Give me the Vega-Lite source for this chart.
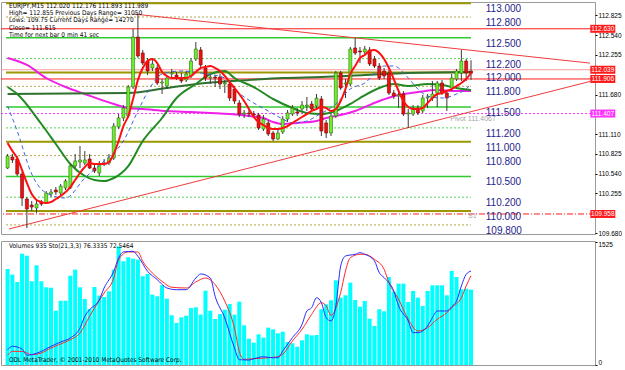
{
  "$schema": "https://vega.github.io/schema/vega-lite/v6.json",
  "padding": {"left": 0, "top": 1, "right": 0, "bottom": 0},
  "spacing": 2,
  "background": "#ffffff",
  "config": {
    "view": {"stroke": "#9a9a9a", "strokeWidth": 1},
    "axis": {"grid": false, "domain": false}
  },
  "datasets": {
    "candles": [
      {"j":0,"o":110.621,"h":110.823,"l":110.607,"c":110.794},
      {"j":1,"o":110.780,"h":110.823,"l":110.693,"c":110.737},
      {"j":2,"o":110.751,"h":110.794,"l":110.506,"c":110.535},
      {"j":3,"o":110.535,"h":110.564,"l":110.073,"c":110.188},
      {"j":4,"o":110.174,"h":110.203,"l":109.755,"c":110.030},
      {"j":5,"o":110.087,"h":110.145,"l":110.001,"c":110.058},
      {"j":6,"o":110.044,"h":110.145,"l":109.972,"c":110.102},
      {"j":7,"o":110.131,"h":110.159,"l":110.073,"c":110.102},
      {"j":8,"o":110.116,"h":110.289,"l":110.102,"c":110.260},
      {"j":9,"o":110.246,"h":110.318,"l":110.203,"c":110.275},
      {"j":10,"o":110.304,"h":110.347,"l":110.232,"c":110.275},
      {"j":11,"o":110.260,"h":110.390,"l":110.232,"c":110.361},
      {"j":12,"o":110.333,"h":110.462,"l":110.304,"c":110.434},
      {"j":13,"o":110.333,"h":110.679,"l":110.318,"c":110.650},
      {"j":14,"o":110.650,"h":110.823,"l":110.621,"c":110.722},
      {"j":15,"o":110.708,"h":110.939,"l":110.621,"c":110.737},
      {"j":16,"o":110.693,"h":110.866,"l":110.664,"c":110.737},
      {"j":17,"o":110.751,"h":110.823,"l":110.607,"c":110.621},
      {"j":18,"o":110.621,"h":110.679,"l":110.549,"c":110.578},
      {"j":19,"o":110.549,"h":110.722,"l":110.506,"c":110.679},
      {"j":20,"o":110.679,"h":110.751,"l":110.650,"c":110.693},
      {"j":21,"o":110.693,"h":110.823,"l":110.664,"c":110.765},
      {"j":22,"o":110.765,"h":111.271,"l":110.737,"c":111.227},
      {"j":23,"o":111.213,"h":111.400,"l":111.184,"c":111.343},
      {"j":24,"o":111.343,"h":111.530,"l":111.299,"c":111.487},
      {"j":25,"o":111.372,"h":111.819,"l":111.343,"c":111.790},
      {"j":26,"o":111.790,"h":112.627,"l":111.761,"c":112.512},
      {"j":27,"o":112.512,"h":112.843,"l":112.209,"c":112.237},
      {"j":28,"o":112.281,"h":112.324,"l":112.108,"c":112.136},
      {"j":29,"o":112.165,"h":112.209,"l":111.963,"c":112.021},
      {"j":30,"o":112.064,"h":112.194,"l":112.021,"c":112.122},
      {"j":31,"o":112.064,"h":112.108,"l":111.819,"c":111.848},
      {"j":32,"o":111.848,"h":111.905,"l":111.689,"c":111.862},
      {"j":33,"o":111.804,"h":111.963,"l":111.761,"c":111.920},
      {"j":34,"o":111.978,"h":112.050,"l":111.920,"c":111.992},
      {"j":35,"o":111.963,"h":112.007,"l":111.891,"c":111.934},
      {"j":36,"o":111.920,"h":111.992,"l":111.848,"c":111.877},
      {"j":37,"o":111.891,"h":112.021,"l":111.862,"c":111.978},
      {"j":38,"o":111.949,"h":112.209,"l":111.920,"c":112.165},
      {"j":39,"o":112.194,"h":112.439,"l":112.165,"c":112.338},
      {"j":40,"o":112.324,"h":112.367,"l":112.079,"c":112.108},
      {"j":41,"o":112.064,"h":112.108,"l":111.877,"c":111.920},
      {"j":42,"o":111.920,"h":111.978,"l":111.833,"c":111.934},
      {"j":43,"o":111.934,"h":111.963,"l":111.790,"c":111.920},
      {"j":44,"o":111.934,"h":111.978,"l":111.761,"c":111.833},
      {"j":45,"o":111.833,"h":111.891,"l":111.703,"c":111.848},
      {"j":46,"o":111.833,"h":111.877,"l":111.588,"c":111.631},
      {"j":47,"o":111.761,"h":111.804,"l":111.545,"c":111.588},
      {"j":48,"o":111.559,"h":111.602,"l":111.357,"c":111.400},
      {"j":49,"o":111.400,"h":111.458,"l":111.343,"c":111.415},
      {"j":50,"o":111.415,"h":111.473,"l":111.357,"c":111.400},
      {"j":51,"o":111.400,"h":111.444,"l":111.343,"c":111.386},
      {"j":52,"o":111.386,"h":111.415,"l":111.170,"c":111.198},
      {"j":53,"o":111.184,"h":111.386,"l":111.155,"c":111.328},
      {"j":54,"o":111.271,"h":111.314,"l":111.083,"c":111.112},
      {"j":55,"o":111.126,"h":111.155,"l":111.011,"c":111.040},
      {"j":56,"o":111.040,"h":111.184,"l":111.025,"c":111.126},
      {"j":57,"o":111.141,"h":111.372,"l":111.112,"c":111.328},
      {"j":58,"o":111.328,"h":111.458,"l":111.285,"c":111.415},
      {"j":59,"o":111.400,"h":111.530,"l":111.372,"c":111.487},
      {"j":60,"o":111.429,"h":111.487,"l":111.372,"c":111.415},
      {"j":61,"o":111.473,"h":111.588,"l":111.444,"c":111.530},
      {"j":62,"o":111.516,"h":111.646,"l":111.444,"c":111.530},
      {"j":63,"o":111.545,"h":111.588,"l":111.444,"c":111.473},
      {"j":64,"o":111.516,"h":111.689,"l":111.487,"c":111.631},
      {"j":65,"o":111.617,"h":111.660,"l":111.083,"c":111.155},
      {"j":66,"o":111.271,"h":111.314,"l":111.054,"c":111.126},
      {"j":67,"o":111.126,"h":111.415,"l":111.083,"c":111.372},
      {"j":68,"o":111.372,"h":112.021,"l":111.343,"c":111.992},
      {"j":69,"o":111.992,"h":112.021,"l":111.747,"c":111.776},
      {"j":70,"o":111.833,"h":111.905,"l":111.631,"c":111.848},
      {"j":71,"o":111.833,"h":112.367,"l":111.804,"c":112.338},
      {"j":72,"o":112.353,"h":112.497,"l":112.252,"c":112.281},
      {"j":73,"o":112.310,"h":112.367,"l":112.136,"c":112.295},
      {"j":74,"o":112.295,"h":112.382,"l":112.252,"c":112.338},
      {"j":75,"o":112.324,"h":112.367,"l":112.093,"c":112.122},
      {"j":76,"o":112.194,"h":112.237,"l":112.064,"c":112.093},
      {"j":77,"o":112.093,"h":112.136,"l":111.891,"c":111.920},
      {"j":78,"o":112.021,"h":112.064,"l":111.905,"c":111.949},
      {"j":79,"o":111.992,"h":112.035,"l":111.675,"c":111.703},
      {"j":80,"o":111.703,"h":111.747,"l":111.617,"c":111.660},
      {"j":81,"o":111.660,"h":111.732,"l":111.487,"c":111.675},
      {"j":82,"o":111.689,"h":111.732,"l":111.372,"c":111.400},
      {"j":83,"o":111.400,"h":111.473,"l":111.198,"c":111.415},
      {"j":84,"o":111.400,"h":111.530,"l":111.372,"c":111.487},
      {"j":85,"o":111.487,"h":111.530,"l":111.386,"c":111.415},
      {"j":86,"o":111.444,"h":111.675,"l":111.415,"c":111.631},
      {"j":87,"o":111.631,"h":111.689,"l":111.487,"c":111.646},
      {"j":88,"o":111.631,"h":111.877,"l":111.588,"c":111.689},
      {"j":89,"o":111.703,"h":111.877,"l":111.501,"c":111.848},
      {"j":90,"o":111.848,"h":111.891,"l":111.675,"c":111.703},
      {"j":91,"o":111.703,"h":111.747,"l":111.444,"c":111.631},
      {"j":92,"o":111.776,"h":111.978,"l":111.732,"c":111.920},
      {"j":93,"o":111.905,"h":112.050,"l":111.877,"c":112.021},
      {"j":94,"o":111.992,"h":112.324,"l":111.877,"c":112.165},
      {"j":95,"o":112.165,"h":112.194,"l":111.877,"c":111.992},
      {"j":96,"o":112.020,"h":112.176,"l":111.893,"c":111.989}
    ],
    "vol": [
      {"j":0,"v":1190},{"j":1,"v":1120},{"j":2,"v":1030},{"j":3,"v":1380},{"j":4,"v":1355},{"j":5,"v":1038},{"j":6,"v":1236},{"j":7,"v":1038},{"j":8,"v":963},{"j":9,"v":958},
      {"j":10,"v":673},{"j":11,"v":797},{"j":12,"v":797},{"j":13,"v":1107},{"j":14,"v":1182},{"j":15,"v":963},{"j":16,"v":818},{"j":17,"v":694},{"j":18,"v":967},{"j":19,"v":860},
      {"j":20,"v":843},{"j":21,"v":913},{"j":22,"v":1182},{"j":23,"v":1472},{"j":24,"v":1286},{"j":25,"v":1335},{"j":26,"v":1318},{"j":27,"v":1306},{"j":28,"v":1100},{"j":29,"v":1128},
      {"j":30,"v":872},{"j":31,"v":852},{"j":32,"v":988},{"j":33,"v":822},{"j":34,"v":616},{"j":35,"v":521},{"j":36,"v":591},{"j":37,"v":611},{"j":38,"v":707},{"j":39,"v":715},
      {"j":40,"v":624},{"j":41,"v":921},{"j":42,"v":673},{"j":43,"v":570},{"j":44,"v":632},{"j":45,"v":686},{"j":46,"v":756},{"j":47,"v":624},{"j":48,"v":785},{"j":49,"v":492},
      {"j":50,"v":326},{"j":51,"v":277},{"j":52,"v":380},{"j":53,"v":339},{"j":54,"v":463},{"j":55,"v":442},{"j":56,"v":393},{"j":57,"v":413},{"j":58,"v":285},{"j":59,"v":269},
      {"j":60,"v":227},{"j":61,"v":306},{"j":62,"v":380},{"j":63,"v":368},{"j":64,"v":372},{"j":65,"v":691},{"j":66,"v":753},{"j":67,"v":802},{"j":68,"v":1050},{"j":69,"v":835},
      {"j":70,"v":864},{"j":71,"v":1021},{"j":72,"v":806},{"j":73,"v":723},{"j":74,"v":794},{"j":75,"v":574},{"j":76,"v":484},{"j":77,"v":691},{"j":78,"v":666},{"j":79,"v":1091},
      {"j":80,"v":909},{"j":81,"v":1008},{"j":82,"v":1008},{"j":83,"v":781},{"j":84,"v":918},{"j":85,"v":835},{"j":86,"v":732},{"j":87,"v":918},{"j":88,"v":988},{"j":89,"v":988},
      {"j":90,"v":988},{"j":91,"v":864},{"j":92,"v":1166},{"j":93,"v":1091},{"j":94,"v":939},{"j":95,"v":946},{"j":96,"v":935}
    ],
    "stk": [
      {"j":0,"s":12.4},{"j":1,"s":15.2},{"j":3,"s":13},{"j":4,"s":7.9},{"j":5,"s":8.4},{"j":7,"s":11.1},{"j":9,"s":15.2},{"j":11,"s":18.7},{"j":13,"s":22},{"j":15,"s":30},
      {"j":16,"s":39.6},{"j":17,"s":45},{"j":19,"s":53},{"j":20,"s":62.6},{"j":22,"s":76.2},{"j":23,"s":87},{"j":24,"s":91.9},{"j":26,"s":92.4},{"j":27,"s":88.4},{"j":29,"s":76.2},
      {"j":31,"s":69.4},{"j":33,"s":62.6},{"j":35,"s":61.2},{"j":37,"s":61.2},{"j":39,"s":70.7},{"j":40,"s":74},{"j":42,"s":70.7},{"j":43,"s":55.8},{"j":45,"s":38.2},{"j":47,"s":13.8},
      {"j":48,"s":4.3},{"j":50,"s":4},{"j":51,"s":5.1},{"j":53,"s":6.7},{"j":55,"s":5.9},{"j":56,"s":5.9},{"j":57,"s":11.4},{"j":59,"s":22.2},{"j":61,"s":33},{"j":62,"s":43.9},
      {"j":63,"s":46.6},{"j":64,"s":54.7},{"j":65,"s":50.7},{"j":66,"s":38.5},{"j":67,"s":35.8},{"j":68,"s":48},{"j":69,"s":80.5},{"j":70,"s":88.6},{"j":72,"s":90},{"j":73,"s":91.3},
      {"j":74,"s":90},{"j":76,"s":84.6},{"j":77,"s":75},{"j":78,"s":71},{"j":80,"s":60.2},{"j":81,"s":48},{"j":83,"s":35.8},{"j":84,"s":26.3},{"j":85,"s":26.3},{"j":87,"s":31.7},
      {"j":88,"s":38.5},{"j":89,"s":43.9},{"j":91,"s":43.9},{"j":92,"s":47.4},{"j":93,"s":52},{"j":94,"s":64.2},{"j":95,"s":73.7},{"j":96,"s":76.3335}
    ],
    "std": [
      {"j":0,"s":7.9},{"j":1,"s":11.1},{"j":3,"s":11.1},{"j":5,"s":8.4},{"j":7,"s":9.8},{"j":9,"s":13.8},{"j":11,"s":17.1},{"j":13,"s":20.6},{"j":15,"s":26},{"j":17,"s":39.6},
      {"j":18,"s":46.3},{"j":20,"s":58.5},{"j":22,"s":70.7},{"j":23,"s":85.6},{"j":25,"s":91.9},{"j":27,"s":91.9},{"j":28,"s":84.3},{"j":30,"s":74.8},{"j":32,"s":68},{"j":34,"s":63.2},
      {"j":37,"s":62.6},{"j":39,"s":67.5},{"j":41,"s":70.7},{"j":43,"s":65.3},{"j":45,"s":51.8},{"j":47,"s":30},{"j":48,"s":11.1},{"j":49,"s":4.6},{"j":51,"s":5.1},{"j":54,"s":5.9},
      {"j":56,"s":6.7},{"j":57,"s":8.7},{"j":59,"s":19.5},{"j":61,"s":29},{"j":63,"s":41.2},{"j":65,"s":50.7},{"j":66,"s":48},{"j":67,"s":40.4},{"j":69,"s":58.8},{"j":70,"s":76.4},
      {"j":71,"s":87.2},{"j":73,"s":90},{"j":74,"s":90},{"j":76,"s":85.9},{"j":78,"s":77.8},{"j":79,"s":66.9},{"j":81,"s":53.4},{"j":83,"s":37.2},{"j":85,"s":27.6},{"j":87,"s":30.3},
      {"j":89,"s":37.2},{"j":91,"s":42.5},{"j":92,"s":46.6},{"j":94,"s":54.7},{"j":95,"s":64.2},{"j":96,"s":72.5464}
    ],
    "maRed": [
      {"j":0,"p":110.982},{"j":1,"p":110.866},{"j":2,"p":110.765},{"j":3,"p":110.592},{"j":4,"p":110.405},{"j":5,"p":110.246},{"j":6,"p":110.159},{"j":7,"p":110.131},{"j":8,"p":110.116},{"j":9,"p":110.131},
      {"j":10,"p":110.174},{"j":11,"p":110.217},{"j":12,"p":110.275},{"j":13,"p":110.347},{"j":14,"p":110.448},{"j":15,"p":110.549},{"j":16,"p":110.636},{"j":17,"p":110.693},{"j":18,"p":110.679},{"j":19,"p":110.679},
      {"j":20,"p":110.679},{"j":21,"p":110.708},{"j":22,"p":110.823},{"j":23,"p":111.011},{"j":24,"p":111.227},{"j":25,"p":111.372},{"j":26,"p":111.617},{"j":27,"p":111.891},{"j":28,"p":112.064},{"j":29,"p":112.165},
      {"j":30,"p":112.194},{"j":31,"p":112.136},{"j":32,"p":112.007},{"j":33,"p":111.949},{"j":34,"p":111.920},{"j":35,"p":111.920},{"j":36,"p":111.920},{"j":37,"p":111.920},{"j":38,"p":111.949},{"j":39,"p":112.007},
      {"j":40,"p":112.064},{"j":41,"p":112.079},{"j":42,"p":112.093},{"j":43,"p":112.064},{"j":44,"p":112.021},{"j":45,"p":111.949},{"j":46,"p":111.862},{"j":47,"p":111.776},{"j":48,"p":111.689},{"j":49,"p":111.588},
      {"j":50,"p":111.473},{"j":51,"p":111.357},{"j":52,"p":111.285},{"j":53,"p":111.242},{"j":54,"p":111.198},{"j":55,"p":111.184},{"j":56,"p":111.184},{"j":57,"p":111.198},{"j":58,"p":111.227},{"j":59,"p":111.271},
      {"j":60,"p":111.314},{"j":61,"p":111.357},{"j":62,"p":111.400},{"j":63,"p":111.444},{"j":64,"p":111.473},{"j":65,"p":111.501},{"j":66,"p":111.487},{"j":67,"p":111.444},{"j":68,"p":111.473},{"j":69,"p":111.588},
      {"j":70,"p":111.761},{"j":71,"p":111.978},{"j":72,"p":112.093},{"j":73,"p":112.209},{"j":74,"p":112.252},{"j":75,"p":112.310},{"j":76,"p":112.324},{"j":77,"p":112.281},{"j":78,"p":112.194},{"j":79,"p":112.064},
      {"j":80,"p":111.905},{"j":81,"p":111.732},{"j":82,"p":111.588},{"j":83,"p":111.501},{"j":84,"p":111.473},{"j":85,"p":111.473},{"j":86,"p":111.487},{"j":87,"p":111.559},{"j":88,"p":111.631},{"j":89,"p":111.689},
      {"j":90,"p":111.703},{"j":91,"p":111.732},{"j":92,"p":111.761},{"j":93,"p":111.804},{"j":94,"p":111.848},{"j":95,"p":111.905},{"j":96,"p":111.992}
    ],
    "maBlue": [
      {"j":0,"p":111.516},{"j":2,"p":111.155},{"j":5,"p":110.535},{"j":8,"p":110.260},{"j":12,"p":110.188},{"j":16,"p":110.477},{"j":20,"p":110.722},{"j":24,"p":111.011},{"j":27,"p":111.444},{"j":30,"p":111.833},
      {"j":32,"p":111.978},{"j":36,"p":112.021},{"j":40,"p":111.992},{"j":45,"p":111.920},{"j":47,"p":111.761},{"j":51,"p":111.559},{"j":54,"p":111.444},{"j":57,"p":111.328},{"j":59,"p":111.271},{"j":62,"p":111.299},
      {"j":64,"p":111.372},{"j":68,"p":111.545},{"j":71,"p":111.761},{"j":74,"p":111.848},{"j":78,"p":112.093},{"j":80,"p":112.093},{"j":83,"p":111.920},{"j":85,"p":111.761},{"j":87,"p":111.660},{"j":90,"p":111.631},
      {"j":93,"p":111.689},{"j":95,"p":111.761},{"j":96,"p":111.833}
    ],
    "maGreen": [
      {"j":0,"p":111.790},{"j":2,"p":111.689},{"j":7,"p":111.256},{"j":10,"p":110.968},{"j":13,"p":110.679},{"j":16,"p":110.506},{"j":18,"p":110.448},{"j":20,"p":110.434},{"j":22,"p":110.477},{"j":25,"p":110.650},
      {"j":28,"p":111.011},{"j":32,"p":111.343},{"j":35,"p":111.631},{"j":39,"p":111.833},{"j":42,"p":111.978},{"j":45,"p":112.021},{"j":47,"p":111.920},{"j":51,"p":111.790},{"j":55,"p":111.617},{"j":59,"p":111.487},
      {"j":62,"p":111.415},{"j":65,"p":111.400},{"j":68,"p":111.444},{"j":71,"p":111.545},{"j":73,"p":111.631},{"j":77,"p":111.776},{"j":80,"p":111.833},{"j":83,"p":111.804},{"j":87,"p":111.833},{"j":90,"p":111.819},
      {"j":93,"p":111.776},{"j":96,"p":111.747}
    ],
    "maMag": [
      {"j":0,"p":112.209},{"j":4,"p":112.108},{"j":8,"p":111.920},{"j":12,"p":111.790},{"j":16,"p":111.689},{"j":22,"p":111.545},{"j":25,"p":111.487},{"j":28,"p":111.473},{"j":33,"p":111.444},{"j":38,"p":111.429},
      {"j":42,"p":111.415},{"j":46,"p":111.400},{"j":50,"p":111.372},{"j":53,"p":111.343},{"j":55,"p":111.285},{"j":57,"p":111.256},{"j":60,"p":111.271},{"j":64,"p":111.299},{"j":66,"p":111.343},{"j":69,"p":111.386},
      {"j":72,"p":111.444},{"j":74,"p":111.501},{"j":77,"p":111.588},{"j":81,"p":111.675},{"j":85,"p":111.718},{"j":89,"p":111.747},{"j":93,"p":111.732},{"j":96,"p":111.732}
    ],
    "maLong": [
      {"j":0,"p":111.689},{"j":25,"p":111.703},{"j":33,"p":111.776},{"j":41,"p":111.848},{"j":50,"p":111.891},{"j":57,"p":111.920},{"j":65,"p":111.934},{"j":74,"p":111.963},{"j":83,"p":111.992},{"j":96,"p":112.007}
    ],
    "levels": [
      {"p":113.0,"kind":"major","label":"113.000"},
      {"p":112.8,"kind":"minor","label":"112.800"},
      {"p":112.5,"kind":"mid","label":"112.500"},
      {"p":112.2,"kind":"quarter","label":"112.200"},
      {"p":112.0,"kind":"major","label":"112.000"},
      {"p":111.8,"kind":"minor","label":"111.800"},
      {"p":111.5,"kind":"mid","label":"111.500"},
      {"p":111.2,"kind":"quarter","label":"111.200"},
      {"p":111.0,"kind":"major","label":"111.000"},
      {"p":110.8,"kind":"minor","label":"110.800"},
      {"p":110.5,"kind":"mid","label":"110.500"},
      {"p":110.2,"kind":"quarter","label":"110.200"},
      {"p":110.0,"kind":"major","label":"110.000"},
      {"p":109.8,"kind":"minor","label":"109.800"}
    ],
    "hlines": [
      {"p":112.63,"kind":"red"},
      {"p":111.906,"kind":"red"},
      {"p":112.039,"kind":"pink"},
      {"p":111.407,"kind":"pivot"},
      {"p":109.958,"kind":"s1"}
    ],
    "tags": [
      {"p":112.63,"t":"112.630","kind":"red"},
      {"p":112.039,"t":"112.039","kind":"red"},
      {"p":111.906,"t":"111.906","kind":"red"},
      {"p":111.407,"t":"111.407","kind":"pivot"},
      {"p":109.958,"t":"109.958","kind":"red"}
    ],
    "trend": [
      {"line":"upper","j":26.15,"p":112.843},
      {"line":"upper","j":120.65,"p":112.135},
      {"line":"lower","j":0.29,"p":109.741},
      {"line":"lower","j":120.65,"p":111.870}
    ],
    "notes": [
      {"j":0.29,"p":112.955,"t":"EURJPY,M15  112.020 112.176 111.893 111.989"},
      {"j":0.29,"p":112.858,"t":"High= 112.855"},
      {"j":9.9,"p":112.858,"t":"Previous Days Range= 31050"},
      {"j":0.29,"p":112.752,"t":"Lows: 109.75"},
      {"j":8.7,"p":112.752,"t":"Current Days Range= 14270"},
      {"j":0.29,"p":112.646,"t":"Close= 111.615"},
      {"j":0.29,"p":112.54,"t":"Time for next bar 0 min 41 sec"}
    ],
    "grayNotes": [
      {"j":91.7,"p":111.328,"t":"Pivot 111.4067"},
      {"j":95.4,"p":109.929,"t":"S1"}
    ],
    "paneNotes": [
      {"j":0.29,"v":1475,"t":"Volumes 935  Sto(21,3,3) 76.3335 72.5464"},
      {"j":0.29,"v":60,"t":"ODL MetaTrader, © 2001-2010 MetaQuotes Software Corp."}
    ]
  },
  "vconcat": [
    {
      "width": 594,
      "height": 232,
      "layer": [
        {
          "data": {"name": "levels"},
          "transform": [{"filter": "datum.kind == 'major'"}],
          "mark": {"type": "rule", "color": "#9d9700", "strokeWidth": 2},
          "encoding": {
            "x": {"datum": -0.326, "type": "quantitative", "scale": {"domain": [-0.326, 120.65], "nice": false, "zero": false}, "axis": null},
            "x2": {"datum": 96},
            "y": {"field": "p", "type": "quantitative", "scale": {"domain": [109.669, 113.0166], "nice": false, "zero": false},
                  "axis": {"orient": "right", "values": [112.825,112.54,112.255,111.68,111.11,110.825,110.54,110.255,109.68], "format": ".3f", "labelFontSize": 6.5, "labelFont": "Liberation Sans", "labelColor": "#000000", "tickColor": "#000000", "tickSize": 2, "labelPadding": 1, "title": null, "labelOverlap": false, "domain": false, "grid": false}}
          }
        },
        {
          "mark": {"type": "rule", "strokeDash": [2, 2], "color": "#000000", "strokeWidth": 1},
          "encoding": {"x": {"datum": 65.15, "type": "quantitative", "scale": {"domain": [-0.326, 120.65], "nice": false, "zero": false}, "axis": null}}
        },
        {
          "data": {"name": "levels"},
          "transform": [{"filter": "datum.kind == 'minor'"}],
          "mark": {"type": "rule", "color": "#b3a64a", "strokeWidth": 1, "strokeDash": [2, 2]},
          "encoding": {
            "x": {"datum": -0.326, "type": "quantitative", "axis": null},
            "x2": {"datum": 96},
            "y": {"field": "p", "type": "quantitative", "axis": null}
          }
        },
        {
          "data": {"name": "levels"},
          "transform": [{"filter": "datum.kind == 'mid'"}],
          "mark": {"type": "rule", "color": "#2fcc2f", "strokeWidth": 1.5},
          "encoding": {
            "x": {"datum": -0.326, "type": "quantitative", "axis": null},
            "x2": {"datum": 96},
            "y": {"field": "p", "type": "quantitative", "axis": null}
          }
        },
        {
          "data": {"name": "levels"},
          "transform": [{"filter": "datum.kind == 'quarter'"}],
          "mark": {"type": "rule", "color": "#55d455", "strokeWidth": 1, "strokeDash": [2, 2]},
          "encoding": {
            "x": {"datum": -0.326, "type": "quantitative", "axis": null},
            "x2": {"datum": 96},
            "y": {"field": "p", "type": "quantitative", "axis": null}
          }
        },
        {
          "data": {"name": "hlines"},
          "transform": [{"filter": "datum.kind == 'red'"}],
          "mark": {"type": "rule", "color": "#ff1a1a", "strokeWidth": 1},
          "encoding": {"y": {"field": "p", "type": "quantitative", "axis": null}}
        },
        {
          "data": {"name": "hlines"},
          "transform": [{"filter": "datum.kind == 'pink'"}],
          "mark": {"type": "rule", "color": "#ff9c9c", "strokeWidth": 1},
          "encoding": {"y": {"field": "p", "type": "quantitative", "axis": null}}
        },
        {
          "data": {"name": "hlines"},
          "transform": [{"filter": "datum.kind == 'pivot'"}],
          "mark": {"type": "rule", "color": "#ff33ff", "strokeWidth": 1, "strokeDash": [2, 2]},
          "encoding": {"y": {"field": "p", "type": "quantitative", "axis": null}}
        },
        {
          "data": {"name": "hlines"},
          "transform": [{"filter": "datum.kind == 's1'"}],
          "mark": {"type": "rule", "color": "#ff1a1a", "strokeWidth": 1, "strokeDash": [6, 2, 1, 2]},
          "encoding": {"y": {"field": "p", "type": "quantitative", "axis": null}}
        },
        {
          "data": {"name": "trend"},
          "mark": {"type": "line", "color": "#f03c3c", "strokeWidth": 1},
          "encoding": {
            "x": {"field": "j", "type": "quantitative", "axis": null},
            "y": {"field": "p", "type": "quantitative", "axis": null},
            "detail": {"field": "line"}
          }
        },
        {
          "data": {"name": "maMag"},
          "mark": {"type": "line", "color": "#f020e8", "strokeWidth": 2, "interpolate": "monotone"},
          "encoding": {"x": {"field": "j", "type": "quantitative", "axis": null}, "y": {"field": "p", "type": "quantitative", "axis": null}}
        },
        {
          "data": {"name": "maLong"},
          "mark": {"type": "line", "color": "#2e7030", "strokeWidth": 2, "interpolate": "monotone"},
          "encoding": {"x": {"field": "j", "type": "quantitative", "axis": null}, "y": {"field": "p", "type": "quantitative", "axis": null}}
        },
        {
          "data": {"name": "maGreen"},
          "mark": {"type": "line", "color": "#238a23", "strokeWidth": 2, "interpolate": "monotone"},
          "encoding": {"x": {"field": "j", "type": "quantitative", "axis": null}, "y": {"field": "p", "type": "quantitative", "axis": null}}
        },
        {
          "data": {"name": "candles"},
          "mark": {"type": "rule", "color": "#3a3a3a", "strokeWidth": 1},
          "encoding": {
            "x": {"field": "j", "type": "quantitative", "axis": null},
            "y": {"field": "l", "type": "quantitative", "axis": null},
            "y2": {"field": "h"}
          }
        },
        {
          "data": {"name": "candles"},
          "mark": {"type": "bar", "size": 3, "strokeWidth": 0.6},
          "encoding": {
            "x": {"field": "j", "type": "quantitative", "axis": null},
            "y": {"field": "o", "type": "quantitative", "axis": null},
            "y2": {"field": "c"},
            "fill": {"condition": {"test": "datum.c < datum.o", "value": "#f01010"}, "value": "#6cf02a"},
            "stroke": {"condition": {"test": "datum.c < datum.o", "value": "#7a0000"}, "value": "#2f6b14"}
          }
        },
        {
          "data": {"name": "maBlue"},
          "mark": {"type": "line", "color": "#3f63e0", "strokeWidth": 1, "strokeDash": [4, 3], "interpolate": "monotone"},
          "encoding": {"x": {"field": "j", "type": "quantitative", "axis": null}, "y": {"field": "p", "type": "quantitative", "axis": null}}
        },
        {
          "data": {"name": "maRed"},
          "mark": {"type": "line", "color": "#ff1010", "strokeWidth": 2, "interpolate": "monotone"},
          "encoding": {"x": {"field": "j", "type": "quantitative", "axis": null}, "y": {"field": "p", "type": "quantitative", "axis": null}}
        },
        {
          "data": {"name": "notes"},
          "mark": {"type": "text", "align": "left", "baseline": "middle", "fontSize": 6.5, "font": "Liberation Sans Narrow, DejaVu Sans Condensed, Liberation Sans, sans-serif", "color": "#000000"},
          "encoding": {
            "x": {"field": "j", "type": "quantitative", "axis": null},
            "y": {"field": "p", "type": "quantitative", "axis": null},
            "text": {"field": "t"}
          }
        },
        {
          "data": {"name": "grayNotes"},
          "mark": {"type": "text", "align": "left", "baseline": "middle", "fontSize": 7, "font": "Liberation Sans", "color": "#a6a6a6"},
          "encoding": {
            "x": {"field": "j", "type": "quantitative", "axis": null},
            "y": {"field": "p", "type": "quantitative", "axis": null},
            "text": {"field": "t"}
          }
        },
        {
          "data": {"name": "levels"},
          "mark": {"type": "text", "align": "left", "baseline": "top", "dy": 1, "fontSize": 10, "font": "Liberation Sans", "color": "#1e1e8c"},
          "encoding": {
            "x": {"datum": 99.06, "type": "quantitative", "axis": null},
            "y": {"field": "p", "type": "quantitative", "axis": null},
            "text": {"field": "label"}
          }
        },
        {
          "data": {"name": "tags"},
          "mark": {"type": "tick", "orient": "horizontal", "size": 25, "thickness": 8, "opacity": 1},
          "encoding": {
            "x": {"datum": 123.3, "type": "quantitative", "axis": null},
            "y": {"field": "p", "type": "quantitative", "axis": null},
            "color": {"condition": {"test": "datum.kind == 'pivot'", "value": "#ff33ff"}, "value": "#ff1a1a"}
          }
        },
        {
          "data": {"name": "tags"},
          "mark": {"type": "text", "align": "center", "baseline": "middle", "fontSize": 6.5, "font": "Liberation Sans", "color": "#ffffff"},
          "encoding": {
            "x": {"datum": 123.3, "type": "quantitative", "axis": null},
            "y": {"field": "p", "type": "quantitative", "axis": null},
            "text": {"field": "t"}
          }
        }
      ],
      "resolve": {"axis": {"y": "independent"}}
    },
    {
      "width": 594,
      "height": 124,
      "layer": [
        {
          "mark": {"type": "rule", "strokeDash": [2, 2], "color": "#000000", "strokeWidth": 1},
          "encoding": {"x": {"datum": 65.15, "type": "quantitative", "scale": {"domain": [-0.326, 120.65], "nice": false, "zero": false}, "axis": null}}
        },
        {
          "data": {"name": "vol"},
          "mark": {"type": "bar", "size": 4, "color": "#00ffff"},
          "encoding": {
            "x": {"field": "j", "type": "quantitative", "scale": {"domain": [-0.326, 120.65], "nice": false, "zero": false},
                  "axis": {"orient": "bottom", "values": [0,8,16,24,32,40,48,56,64,72,80,88,96],
                           "labelExpr": "['1 Jun 2010','1 Jun 09:45','1 Jun 11:45','1 Jun 13:45','1 Jun 15:45','1 Jun 17:45','1 Jun 19:45','1 Jun 21:45','1 Jun 23:45','2 Jun 01:45','2 Jun 03:45','2 Jun 05:45','2 Jun 07:45'][round(datum.value/8)]",
                           "labelAlign": "left", "labelBaseline": "top", "labelOffset": 1, "tickSize": 3, "labelPadding": 1, "labelFontSize": 6.5,
                           "labelFont": "Liberation Sans Narrow, DejaVu Sans Condensed, Liberation Sans, sans-serif", "labelColor": "#000000", "tickColor": "#000000",
                           "title": null, "labelOverlap": false, "labelFlush": false, "domain": false, "grid": false}},
            "y": {"field": "v", "type": "quantitative", "scale": {"domain": [0, 1537], "nice": false, "zero": true},
                  "axis": {"orient": "right", "values": [0, 1525], "format": "d", "labelFlush": true, "tickSize": 2, "labelPadding": 1, "labelFontSize": 6.5,
                           "labelFont": "Liberation Sans", "labelColor": "#000000", "tickColor": "#000000",
                           "title": null, "domain": false, "grid": false}}
          }
        },
        {
          "data": {"name": "std"},
          "mark": {"type": "line", "color": "#ff2a2a", "strokeWidth": 1, "interpolate": "monotone"},
          "encoding": {
            "x": {"field": "j", "type": "quantitative", "axis": null},
            "y": {"field": "s", "type": "quantitative", "scale": {"domain": [0, 100.8], "nice": false, "zero": true}, "axis": null}
          }
        },
        {
          "data": {"name": "stk"},
          "mark": {"type": "line", "color": "#2a2aff", "strokeWidth": 1, "interpolate": "monotone"},
          "encoding": {
            "x": {"field": "j", "type": "quantitative", "axis": null},
            "y": {"field": "s", "type": "quantitative", "scale": {"domain": [0, 100.8], "nice": false, "zero": true}, "axis": null}
          }
        },
        {
          "data": {"name": "paneNotes"},
          "mark": {"type": "text", "align": "left", "baseline": "middle", "fontSize": 6.5, "font": "Liberation Sans Narrow, DejaVu Sans Condensed, Liberation Sans, sans-serif", "color": "#000000"},
          "encoding": {
            "x": {"field": "j", "type": "quantitative", "axis": null},
            "y": {"field": "v", "type": "quantitative", "scale": {"domain": [0, 1537], "nice": false, "zero": true}, "axis": null},
            "text": {"field": "t"}
          }
        }
      ],
      "resolve": {"scale": {"y": "independent"}, "axis": {"y": "independent"}}
    }
  ]
}
